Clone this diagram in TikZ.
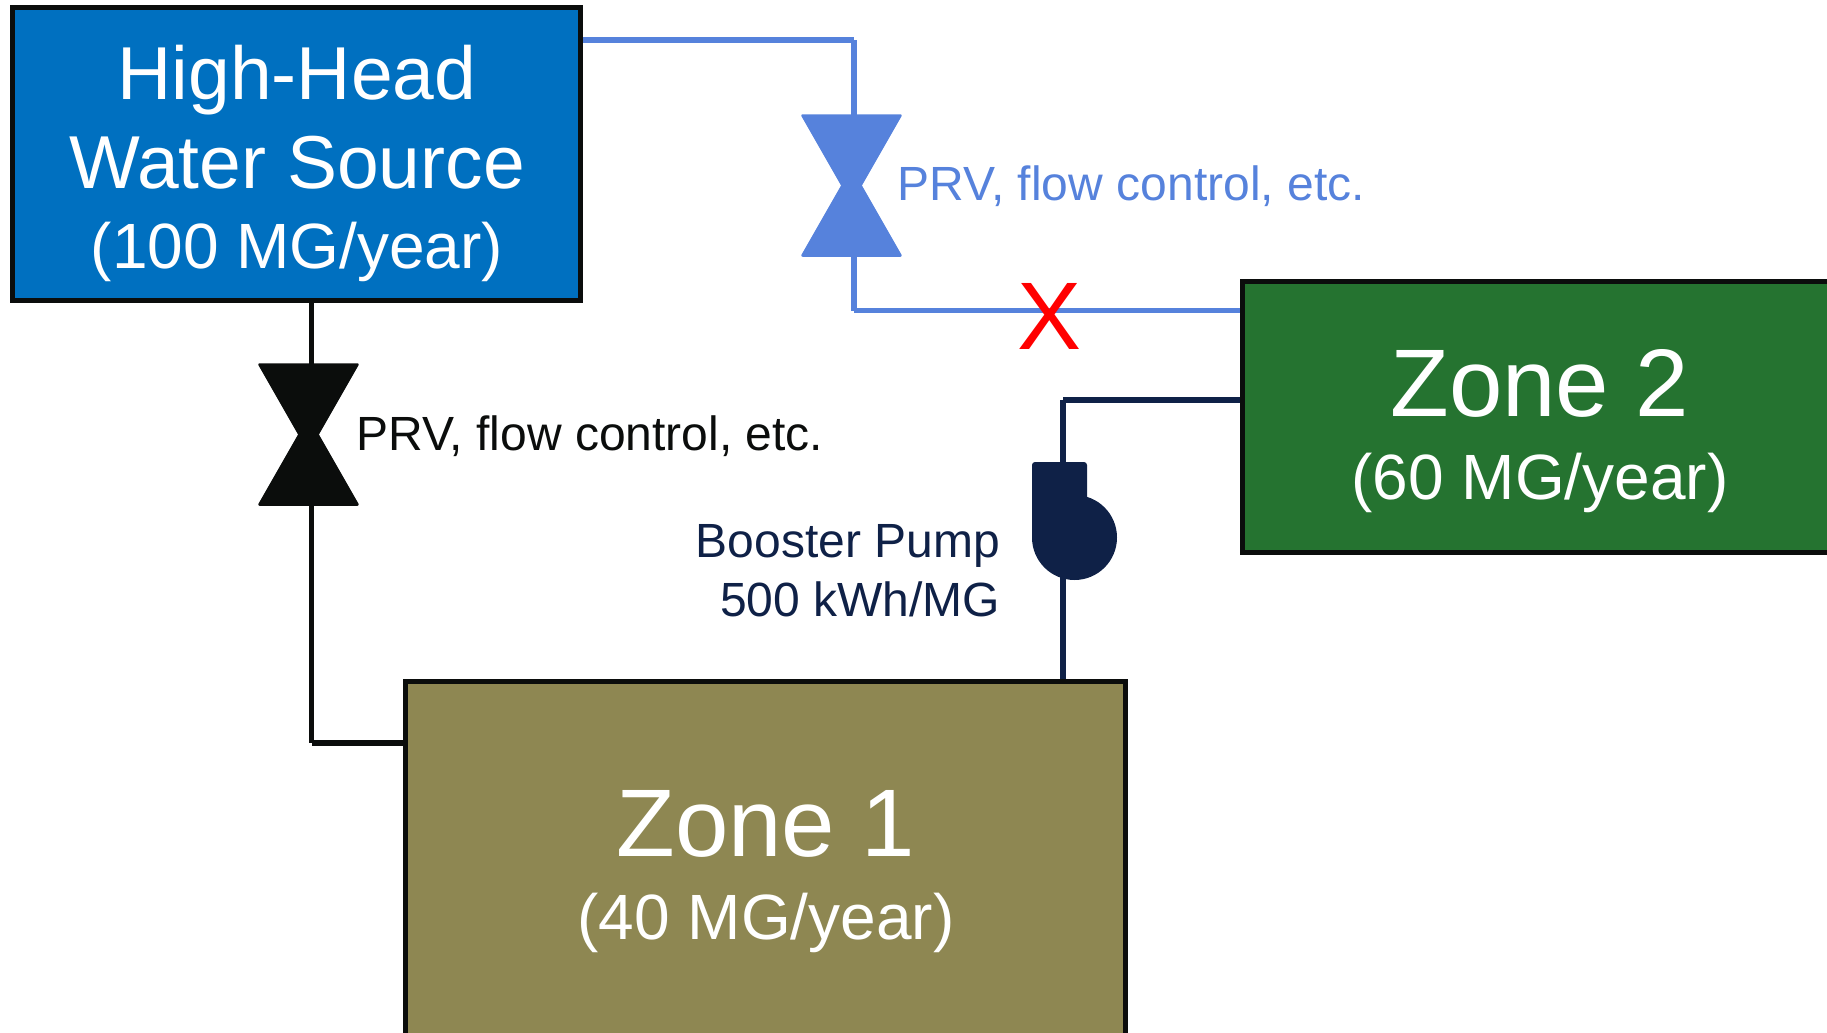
\documentclass[tikz,border=0pt]{standalone}
\usepackage{fontspec}
\setmainfont{Liberation Sans}
\usetikzlibrary{calc,positioning}
\definecolor{srcblue}{HTML}{0070C0}
\definecolor{zonegreen}{HTML}{257330}
\definecolor{zoneolive}{HTML}{8E8752}
\definecolor{pipeblue}{HTML}{5682DC}
\definecolor{pipeblack}{HTML}{0B0D0C}
\definecolor{pumpnavy}{HTML}{0F2147}
\newcommand{\bigfont}{\fontsize{37.5}{44.5}\selectfont}
\newcommand{\zonefont}{\fontsize{48}{41.7}\selectfont}
\newcommand{\flowfont}{\fontsize{32}{40}\selectfont}
\newcommand{\notefont}{\fontsize{24}{29.5}\selectfont}
\tikzset{
    zonebox/.style={draw=pipeblack, line width=2.5pt, inner sep=0pt},
    zonetext/.style={text=white, align=center, inner sep=0pt},
    notetext/.style={inner sep=0pt, anchor=base west, font=\notefont},
    pipe/.style={line width=2.75pt},
    valve/.pic={
        \path[line width=1.25pt, line join=round, pic actions]
            (-49,-70) -- (49,-70) -- (9,0) -- (49,70) -- (-49,70) -- (-9,0) -- cycle;
    }
}
\begin{document}
\begin{tikzpicture}[x=0.5pt, y=-0.5pt]
    \useasboundingbox (0,0) rectangle (1827,1033);
    % boxes
    \node[zonebox, fill=srcblue, minimum width=284pt, minimum height=146.5pt] (Src) at (296.25,153.5) {};
    \node[zonebox, fill=zoneolive, minimum width=360pt, minimum height=179.25pt] (ZoneA) at (765.5,860.75) {};
    \node[zonebox, fill=zonegreen, minimum width=297.75pt, minimum height=135.75pt] (ZoneB) at (1540.25,416.75) {};
    \node[zonetext, font=\bigfont] (SrcText) at (297,163) {High-Head\\Water Source\\[-4.5pt]\flowfont (100 MG/year)};
    \node[zonetext, font=\zonefont] (ZoneAText) at (766,871.5) {Zone 1\\\flowfont (40 MG/year)};
    \node[zonetext, font=\zonefont] (ZoneBText) at (1540,431) {Zone 2\\\flowfont (60 MG/year)};
    % junctions
    \coordinate (CornerK) at (311.5,743);
    \coordinate (CornerH) at (854,40);
    \coordinate (CornerL) at (854,310.5);
    \coordinate (CornerP) at (1063,400);
    \coordinate (ValveK) at (308.5,434.5);
    \coordinate (ValveB) at (851.5,185.5);
    \coordinate (Pump) at (1074.5,537.5);
    % black line
    \draw[pipe, pipeblack] (Src.south -| CornerK) -- (CornerK);
    \draw[pipe, pipeblack] (CornerK) -- (CornerK -| ZoneA.west);
    \pic[fill=pipeblack, draw=pipeblack] at (ValveK) {valve};
    % blue line
    \draw[pipe, pipeblue] (CornerH -| Src.east) -- (CornerH);
    \draw[pipe, pipeblue] (CornerH) -- (CornerL);
    \draw[pipe, pipeblue] (CornerL) -- (CornerL -| ZoneB.west);
    \pic[fill=pipeblue, draw=pipeblue] at (ValveB) {valve};
    \node[text=red, inner sep=0pt, font=\fontsize{48}{48}\selectfont] (Cross) at (1049.5,316) {X};
    % pump line
    \draw[pipe, pumpnavy] (ZoneA.north -| CornerP) -- (CornerP);
    \draw[pipe, pumpnavy] (CornerP) -- (CornerP -| ZoneB.west);
    \fill[pumpnavy] (Pump) circle[radius=42.5];
    \fill[pumpnavy, rounded corners=1.5pt] (1032,537.5) -- (1032,462) -- (1087,462) -- (1087,537.5) -- cycle;
    % labels
    \node[notetext, text=pipeblue] (NoteB) at (897.5,200) {PRV, flow control, etc.};
    \node[notetext, text=pipeblack] (NoteK) at (356,450) {PRV, flow control, etc.};
    \node[inner sep=0pt, align=right, anchor=east, text=pumpnavy, font=\notefont] (NotePump) at (1000.5,571) {Booster Pump\\500 kWh/MG};
\end{tikzpicture}
\end{document}
